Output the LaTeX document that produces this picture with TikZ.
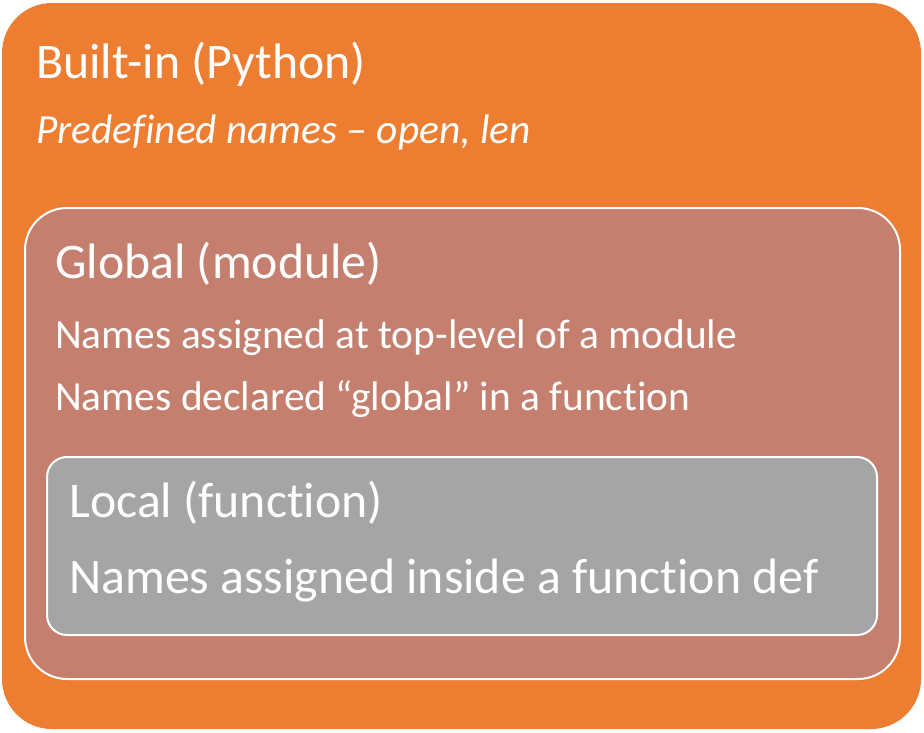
\documentclass[tikz,border=0pt]{standalone}
\usepackage{fontspec}
\setmainfont{Carlito}[Ligatures=NoCommon]
\definecolor{builtin}{HTML}{ED7D31}
\definecolor{globalc}{HTML}{C57F6F}
\definecolor{localc}{HTML}{A5A5A5}
\begin{document}
\begin{tikzpicture}[x=1pt,y=-1pt,
  head/.style={anchor=base west,text=white,inner sep=0pt,font=\fontsize{49.8}{58}\selectfont},
  body/.style={anchor=base west,text=white,inner sep=0pt,font=\fontsize{41.4}{48}\selectfont},
  scopebox/.style={draw=white,line width=2pt}]
\useasboundingbox (0,0) rectangle (924,732);
\fill[builtin,rounded corners=50pt] (2,3) rectangle (921,729);
\draw[scopebox,fill=globalc,rounded corners=42pt] (25,208) rectangle (900,679);
\draw[scopebox,fill=localc,rounded corners=20pt] (47,457) rectangle (877,635);
\node[head] (bt) at (36,78) {Built-in (Python)};
\node[body,font=\fontsize{41.4}{48}\selectfont\itshape] (bb) at (36,143) {Predefined names – open, len};
\node[head] (gt) at (55,278) {Global (module)};
\node[body] (gb1) at (55,348) {Names assigned at top-level of a module};
\node[body] (gb2) at (55,410) {Names declared “global” in a function};
\node[head] (lt) at (69,517) {Local (function)};
\node[head] (lb) at (69,593) {Names assigned inside a function def};
\end{tikzpicture}
\end{document}
